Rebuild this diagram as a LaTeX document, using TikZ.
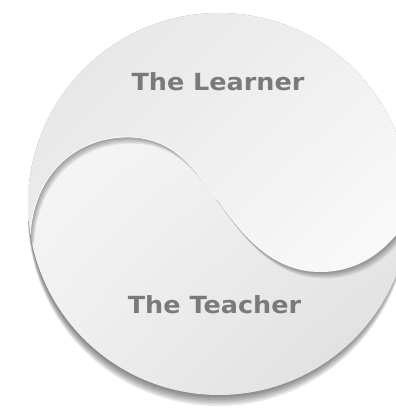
\documentclass[tikz,border=0pt]{standalone}
\usepackage{fontspec}
\usetikzlibrary{shadings}
\newfontfamily\labelfont{DejaVu Sans}
\definecolor{txtgray}{HTML}{7A7A7A}
\definecolor{teachUL}{HTML}{FAFAFA}
\definecolor{teachUR}{HTML}{F3F3F3}
\definecolor{teachLL}{HTML}{EFEFEF}
\definecolor{teachLR}{HTML}{DCDCDC}
\definecolor{learnUL}{HTML}{E2E2E2}
\definecolor{learnUR}{HTML}{F0F0F0}
\definecolor{learnLL}{HTML}{EBEBEB}
\definecolor{learnLR}{HTML}{FCFCFC}
\begin{document}
\begin{tikzpicture}[x=1pt,y=-1pt,
  labeltext/.style={font=\labelfont\bfseries\fontsize{23.6}{28}\selectfont,
    text=txtgray, xscale=1.08, anchor=base, inner sep=0pt},
  discshadow/.style={black, opacity=0.08},
  edgeshadow/.style={black, opacity=0.065}]
\useasboundingbox (0,0) rectangle (396,418);
\clip (0,0) rectangle (396,418);
% drop shadow of the whole disc
\foreach \d in {1.5,3,...,12} {
  \fill[discshadow] (218,{204+\d}) circle[radius=190pt];
}
% the teacher part (whole disc)
\shade[upper left=teachUL, upper right=teachUR, lower left=teachLL, lower right=teachLR]
  (219,204) circle[radius=191pt];
\begin{scope}
  \clip (219,204) circle[radius=191pt];
  % shadow cast by the learner part onto the teacher part
  \foreach \k in {1,...,6} {
    \fill[edgeshadow, shift={({0.7*\k},{1.1*\k})}]
      (-10,238) -- (30,238) .. controls (33,170) and (80,137) .. (127,137)
      .. controls (175,137) and (195,170) .. (217,200)
      .. controls (240,232) and (270,272) .. (320,272)
      .. controls (360,272) and (390,250) .. (412,212)
      -- (430,212) -- (430,-20) -- (-10,-20) -- cycle;
  }
  % the learner part
  \shade[upper left=learnUL, upper right=learnUR, lower left=learnLL, lower right=learnLR]
      (-10,238) -- (30,238) .. controls (33,170) and (80,137) .. (127,137)
      .. controls (175,137) and (195,170) .. (217,200)
      .. controls (240,232) and (270,272) .. (320,272)
      .. controls (360,272) and (390,250) .. (412,212)
      -- (430,212) -- (430,-20) -- (-10,-20) -- cycle;
  % light rim along the edge of the learner part
  \draw[white, line width=0.8pt, opacity=0.9]
      (30,238) .. controls (33,170) and (80,137) .. (127,137)
      .. controls (175,137) and (195,170) .. (217,200);
\end{scope}
\node[labeltext] (learner) at (218,90) {The Learner};
\node[labeltext] (teacher) at (214.5,313) {The Teacher};
\end{tikzpicture}
\end{document}
